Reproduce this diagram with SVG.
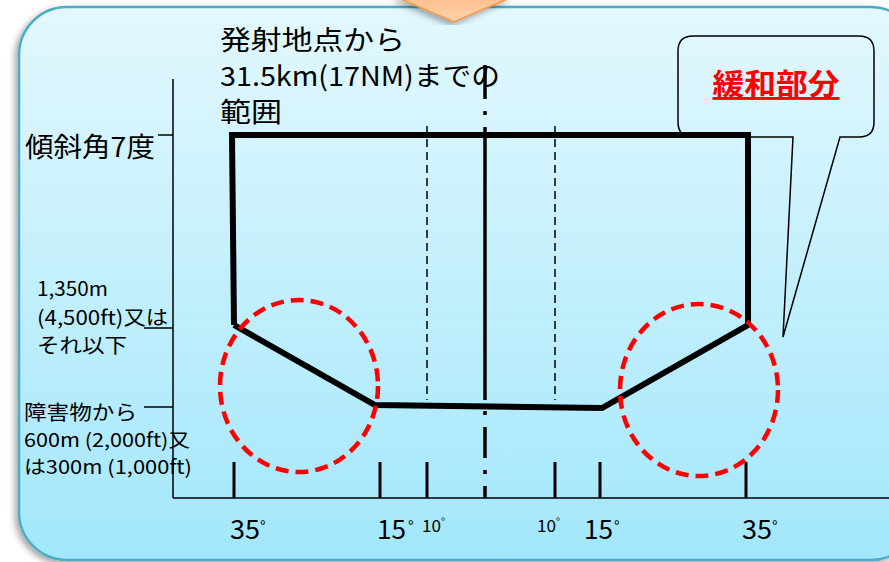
<svg xmlns="http://www.w3.org/2000/svg" width="889" height="562" viewBox="0 0 889 562">
<defs>
<linearGradient id="bg" x1="0" y1="0" x2="0" y2="1">
<stop offset="0" stop-color="#e3f8fe"/>
<stop offset="1" stop-color="#a2e7fb"/>
</linearGradient>
<linearGradient id="org" x1="0" y1="0" x2="0" y2="1">
<stop offset="0" stop-color="#ffbf8c"/>
<stop offset="1" stop-color="#ffd3ad"/>
</linearGradient>
<filter id="sh" x="-10%" y="-10%" width="120%" height="120%">
<feDropShadow dx="-3" dy="3" stdDeviation="3" flood-color="#000" flood-opacity="0.35"/>
</filter>
<style>
.t{font-family:'Noto Sans CJK JP','Noto Sans',sans-serif;fill:#000}
.ax{stroke:#000;stroke-width:1.5;fill:none}
.tick{stroke:#000;stroke-width:3}
.poly{stroke:#000;stroke-width:6;fill:none;stroke-linejoin:miter}
.red{stroke:#ff0000;stroke-width:4.5;fill:none;stroke-dasharray:13 7}
.thin{stroke:#000;stroke-width:1.5;stroke-dasharray:8 5}
.cl{stroke:#000;stroke-width:3.5}
</style>
</defs>
<rect width="889" height="562" fill="#fff"/>
<g id="panel">
<rect x="19" y="7" width="900" height="553" rx="48" fill="url(#bg)" stroke="#4bacc6" stroke-width="2.5" filter="url(#sh)"/>
</g>
<g id="arrow">
<polygon points="396,-3 512,-3 454,22" fill="url(#org)" stroke="#f79646" stroke-width="1.5" filter="url(#sh)"/>
</g>
<g id="axes">
<line class="ax" x1="173" y1="79" x2="173" y2="498"/>
<line class="ax" x1="173" y1="498" x2="889" y2="498"/>
<line class="ax" x1="158" y1="135" x2="173" y2="135"/>
<line class="ax" x1="144" y1="328" x2="173" y2="328"/>
<line class="ax" x1="144" y1="407" x2="173" y2="407"/>
</g>
<g id="guides">
<line class="thin" x1="427" y1="126" x2="427" y2="400"/>
<line class="thin" x1="555" y1="126" x2="555" y2="400"/>
<line class="cl" x1="485" y1="65" x2="485" y2="99"/>
<line class="cl" x1="485" y1="111" x2="485" y2="115"/>
<line class="cl" x1="485" y1="127" x2="485" y2="400"/>
<line class="cl" x1="485" y1="411" x2="485" y2="415"/>
<line class="cl" x1="485" y1="427" x2="485" y2="458"/>
<line class="cl" x1="485" y1="470" x2="485" y2="474"/>
<line class="cl" x1="485" y1="486" x2="485" y2="498"/>
</g>
<g id="ticks">
<line class="tick" x1="234" y1="462" x2="234" y2="498"/>
<line class="tick" x1="380" y1="462" x2="380" y2="498"/>
<line class="tick" x1="427" y1="462" x2="427" y2="498"/>
<line class="tick" x1="555" y1="462" x2="555" y2="498"/>
<line class="tick" x1="600" y1="462" x2="600" y2="498"/>
<line class="tick" x1="746" y1="462" x2="746" y2="498"/>
</g>
<g id="area">
<polyline class="poly" points="234,325 232,135 748,135 748,325 602,408 375,405 234,325"/>
</g>
<g id="circles">
<ellipse class="red" cx="299" cy="386" rx="79" ry="86"/>
<ellipse class="red" cx="699" cy="390" rx="79" ry="86"/>
</g>
<g id="callout">
<path d="M693,36 H859 Q874,36 874,51 V122 Q874,137 859,137 H840 L783,337 L793,137 H693 Q678,137 678,122 V51 Q678,36 693,36 Z" fill="none" stroke="#000" stroke-width="1.5"/>
<text x="776" y="95" text-anchor="middle" font-family="'Noto Sans CJK JP',sans-serif" font-weight="bold" font-size="29" fill="#ff0000" text-decoration="underline" textLength="127" lengthAdjust="spacingAndGlyphs">緩和部分</text>
</g>
<g id="labels">
<text class="t" x="220" y="50" font-size="27" textLength="185" lengthAdjust="spacingAndGlyphs">発射地点から</text>
<text class="t" x="220" y="86" font-size="27" textLength="280" lengthAdjust="spacingAndGlyphs">31.5km(17NM)までの</text>
<text class="t" x="220" y="122" font-size="27" textLength="62" lengthAdjust="spacingAndGlyphs">範囲</text>
<text class="t" x="25" y="157" font-size="27" textLength="130" lengthAdjust="spacingAndGlyphs">傾斜角7度</text>
<text class="t" x="37" y="296" font-size="20" textLength="71" lengthAdjust="spacingAndGlyphs">1,350m</text>
<text class="t" x="37" y="325" font-size="20" textLength="131" lengthAdjust="spacingAndGlyphs">(4,500ft)又は</text>
<text class="t" x="37" y="353" font-size="20" textLength="90" lengthAdjust="spacingAndGlyphs">それ以下</text>
<text class="t" x="24" y="420" font-size="20" textLength="113" lengthAdjust="spacingAndGlyphs">障害物から</text>
<text class="t" x="24" y="447" font-size="19" textLength="166" lengthAdjust="spacingAndGlyphs">600m (2,000ft)又</text>
<text class="t" x="24" y="474" font-size="19" textLength="168" lengthAdjust="spacingAndGlyphs">は300m (1,000ft)</text>
</g>
<g id="angles">
<text class="t" x="230" y="539" font-size="26" textLength="30" lengthAdjust="spacingAndGlyphs">35</text>
<text class="t" x="260" y="532" font-size="15">°</text>
<text class="t" x="377" y="539" font-size="26" textLength="29" lengthAdjust="spacingAndGlyphs">15</text>
<text class="t" x="408" y="532" font-size="15">°</text>
<text class="t" x="422" y="532" font-size="17" textLength="19" lengthAdjust="spacingAndGlyphs">10</text>
<text class="t" x="441" y="526" font-size="11">°</text>
<text class="t" x="537" y="532" font-size="17" textLength="19" lengthAdjust="spacingAndGlyphs">10</text>
<text class="t" x="556" y="526" font-size="11">°</text>
<text class="t" x="584" y="539" font-size="26" textLength="29" lengthAdjust="spacingAndGlyphs">15</text>
<text class="t" x="614" y="532" font-size="15">°</text>
<text class="t" x="742" y="539" font-size="26" textLength="30" lengthAdjust="spacingAndGlyphs">35</text>
<text class="t" x="772" y="532" font-size="15">°</text>
</g>
</svg>
